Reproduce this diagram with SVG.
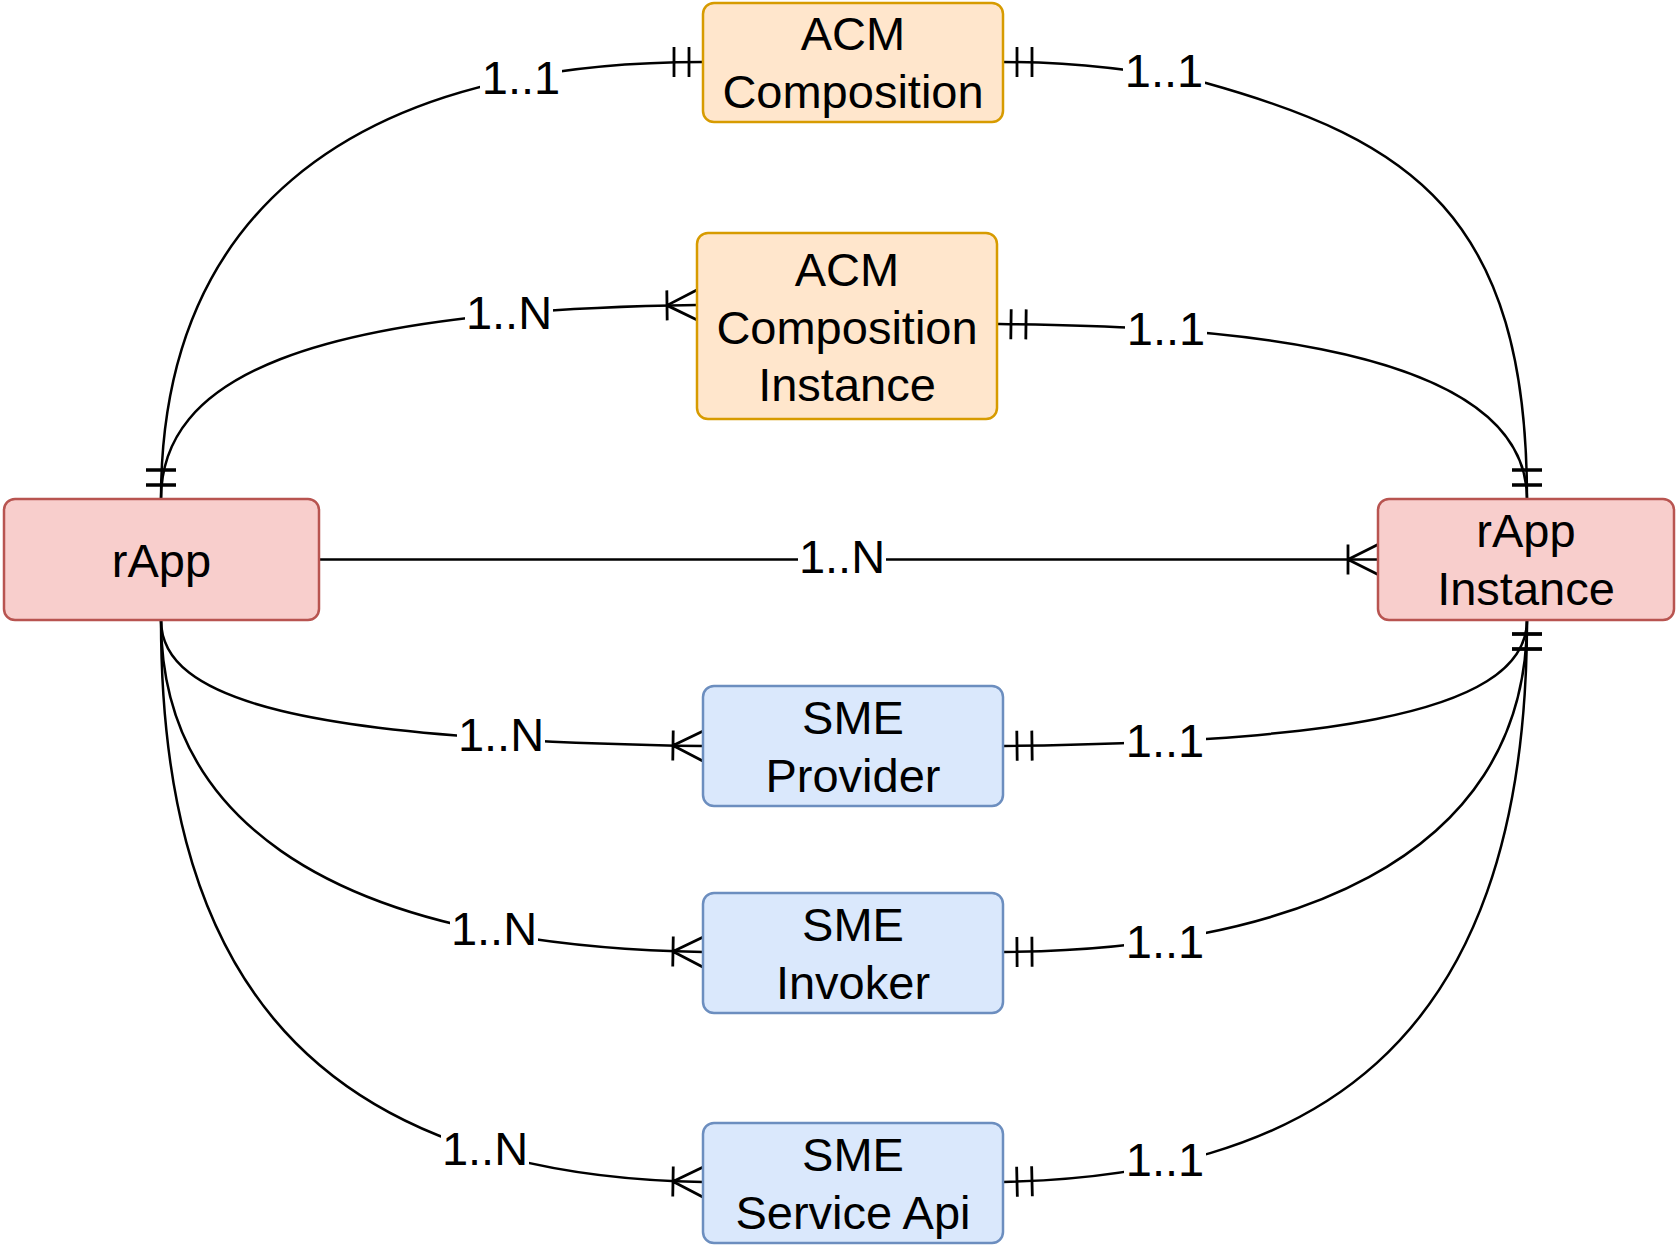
<svg xmlns="http://www.w3.org/2000/svg" width="1676" height="1245" viewBox="0 0 1676 1245">
<defs>
<style>
.orange{fill:#ffe6cc;stroke:#d79b00;stroke-width:2.5}
.red{fill:#f8cecc;stroke:#b85450;stroke-width:2.5}
.blue{fill:#dae8fc;stroke:#6c8ebf;stroke-width:2.5}
.t{font-family:"Liberation Sans",Arial,sans-serif;font-size:47px;text-anchor:middle;fill:#000}
.e{fill:none;stroke:#000;stroke-width:2.5}
.lbl{font-family:"Liberation Sans",Arial,sans-serif;font-size:47px;text-anchor:middle;fill:#000}
.bg{fill:#fff}
.m{fill:none;stroke:#000;stroke-width:2.8}
</style>
<marker id="one" markerUnits="userSpaceOnUse" viewBox="-40 -20 50 40" refX="0" refY="0" markerWidth="50" markerHeight="40" orient="auto-start-reverse" overflow="visible">
<path class="m" d="M-14,-15 V15 M-29,-15 V15"/>
</marker>
<marker id="many" markerUnits="userSpaceOnUse" viewBox="-40 -20 50 40" refX="0" refY="0" markerWidth="50" markerHeight="40" orient="auto-start-reverse" overflow="visible">
<path class="m" d="M-30,-15 V15 M-30,0 L0,-15 M-30,0 L0,15"/>
</marker>
</defs>
<rect width="1676" height="1245" fill="#fff"/>
<g id="connectors">
<path class="e" d="M161,499 C161,230 330,62 703,62" marker-start="url(#one)" marker-end="url(#one)"/>
<path class="e" d="M1003,62 C1060,62 1130,68 1206,83 C1410,140 1527,215 1527,499" marker-start="url(#one)" marker-end="url(#one)"/>
<path class="e" d="M161,499 C161,380 300,310 697,305" marker-start="url(#one)" marker-end="url(#many)"/>
<path class="e" d="M997,324 C1150,326 1527,330 1527,499" marker-start="url(#one)" marker-end="url(#one)"/>
<path class="e" d="M319,559.5 H1378" marker-end="url(#many)"/>
<path class="e" d="M161,620 C161,700 300,740 703,746" marker-end="url(#many)"/>
<path class="e" d="M161,620 C161,800 300,945 703,952" marker-end="url(#many)"/>
<path class="e" d="M161,620 C161,940 280,1175 703,1182" marker-end="url(#many)"/>
<path class="e" d="M1003,746 C1300,742 1527,720 1527,620" marker-start="url(#one)" marker-end="url(#one)"/>
<path class="e" d="M1003,952 C1280,950 1527,865 1527,620" marker-start="url(#one)" marker-end="url(#one)"/>
<path class="e" d="M1003,1182 C1300,1175 1527,1060 1527,620" marker-start="url(#one)" marker-end="url(#one)"/>
<g id="labels">
<rect class="bg" x="480" y="57" width="82" height="40"/><text class="lbl" x="521" y="93.5">1..1</text>
<rect class="bg" x="1123" y="50" width="82" height="40"/><text class="lbl" x="1164" y="86.5">1..1</text>
<rect class="bg" x="465" y="292" width="88" height="40"/><text class="lbl" x="509" y="328.5">1..N</text>
<rect class="bg" x="1125" y="308" width="82" height="40"/><text class="lbl" x="1166" y="344.5">1..1</text>
<rect class="bg" x="798" y="537" width="88" height="40"/><text class="lbl" x="842" y="573">1..N</text>
<rect class="bg" x="457" y="714" width="88" height="40"/><text class="lbl" x="501" y="750.5">1..N</text>
<rect class="bg" x="1124" y="720" width="82" height="40"/><text class="lbl" x="1165" y="756.5">1..1</text>
<rect class="bg" x="450" y="908" width="88" height="40"/><text class="lbl" x="494" y="944.5">1..N</text>
<rect class="bg" x="1124" y="921" width="82" height="40"/><text class="lbl" x="1165" y="957.5">1..1</text>
<rect class="bg" x="441" y="1128" width="88" height="40"/><text class="lbl" x="485" y="1164.5">1..N</text>
<rect class="bg" x="1124" y="1139" width="82" height="40"/><text class="lbl" x="1165" y="1175.5">1..1</text>
</g>
</g>
<g id="acm-composition">
<rect class="orange" x="703" y="3" width="300" height="119" rx="11"/>
<text class="t" x="853" y="50">ACM</text>
<text class="t" x="853" y="108">Composition</text>
</g>
<g id="acm-composition-instance">
<rect class="orange" x="697" y="233" width="300" height="186" rx="11"/>
<text class="t" x="847" y="286">ACM</text>
<text class="t" x="847" y="344">Composition</text>
<text class="t" x="847" y="401">Instance</text>
</g>
<g id="rapp">
<rect class="red" x="4" y="499" width="315" height="121" rx="11"/>
<text class="t" x="161.5" y="577">rApp</text>
</g>
<g id="rapp-instance">
<rect class="red" x="1378" y="499" width="296" height="121" rx="11"/>
<text class="t" x="1526" y="547">rApp</text>
<text class="t" x="1526" y="605">Instance</text>
</g>
<g id="sme-provider">
<rect class="blue" x="703" y="686" width="300" height="120" rx="11"/>
<text class="t" x="853" y="734">SME</text>
<text class="t" x="853" y="792">Provider</text>
</g>
<g id="sme-invoker">
<rect class="blue" x="703" y="893" width="300" height="120" rx="11"/>
<text class="t" x="853" y="941">SME</text>
<text class="t" x="853" y="999">Invoker</text>
</g>
<g id="sme-service-api">
<rect class="blue" x="703" y="1123" width="300" height="120" rx="11"/>
<text class="t" x="853" y="1171">SME</text>
<text class="t" x="853" y="1229">Service Api</text>
</g>
</svg>
